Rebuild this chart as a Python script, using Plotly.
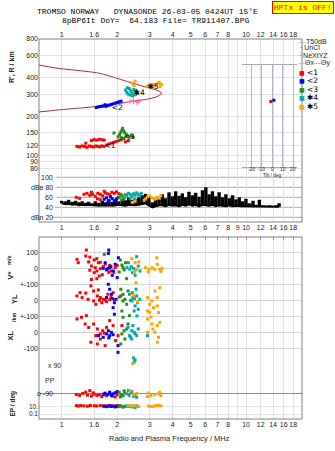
import math
import plotly.graph_objects as go

# ---------------- data ----------------
F_MIN, F_MAX = 0.753, 20.1
FREQ_TICKS = [1, 1.5, 2, 3, 4, 5, 6, 7, 8, 9, 10, 12, 14, 16, 18]
FREQ_LABELS = ["1", "1.6", "2", "3", "4", "5", "6", "7", "8", "", "10", "12", "14", "16", "18"]
FREQ_LABELS_MID = ["1", "1.6", "2", "3", "4", "5", "6", "7", "8", "9", "10", "12", "14", "16", "18"]
R_TICKS = [800, 600, 400, 300, 200, 150, 120, 100, 90, 80]

# model profile curve (frequency MHz, range km)
CURVE_F = [0.753, 0.958, 1.31, 1.61, 1.99, 2.45, 2.89, 3.28, 3.49, 3.28, 2.89, 2.45, 1.99, 1.61, 1.31, 0.958, 0.753]
CURVE_R = [503, 474, 452, 434, 397, 363, 338, 322, 304, 286, 273, 265, 251, 242, 235, 226, 218]

# echo virtual ranges
TOP_1 = [(1.21, 118), (1.25, 117), (1.29, 119), (1.33, 118), (1.37, 116), (1.41, 119), (1.45, 118), (1.49, 117),
         (1.53, 119), (1.57, 118), (1.61, 117), (1.65, 119), (1.69, 118), (1.45, 131), (1.50, 133), (1.55, 132),
         (1.60, 134), (1.65, 133), (1.70, 132), (1.75, 121), (1.80, 123), (1.86, 125), (1.92, 127), (1.98, 129),
         (2.04, 131), (2.10, 133), (2.15, 136), (2.30, 131), (2.22, 128), (1.35, 125)]
TOP_2 = [(1.54, 236), (1.58, 239), (1.62, 240), (1.66, 242), (1.70, 243), (1.74, 241), (1.78, 245), (1.82, 247),
         (1.86, 249), (1.90, 252), (1.95, 255), (2.00, 258), (2.05, 262), (2.10, 264), (1.72, 248)]
TOP_3 = [(2.02, 140), (2.06, 146), (2.09, 152), (2.12, 158), (2.14, 163), (2.17, 155), (2.20, 150), (2.24, 146),
         (2.28, 142), (2.33, 140), (2.38, 143), (2.44, 139), (2.18, 135), (1.92, 150), (2.10, 138)]
TOP_4 = [(2.22, 322), (2.25, 310), (2.29, 300), (2.33, 330), (2.37, 316), (2.41, 306), (2.46, 325), (2.50, 296),
         (2.54, 312), (2.58, 302), (2.42, 290), (2.27, 335), (2.35, 295), (2.52, 320)]
TOP_5 = [(2.42, 362), (2.47, 348), (2.50, 378), (2.90, 342), (2.96, 352), (3.03, 336), (3.10, 356), (3.18, 346),
         (3.26, 352), (3.34, 362), (3.42, 342), (3.48, 356), (3.38, 370)]
NEXTYZ = [(2.35, 262), (2.45, 265), (2.55, 260), (2.62, 264)]
ECHO_LABEL_F = [1.83, 2.0, 2.32, 2.63, 3.13]
ECHO_LABEL_R = [118, 233, 139, 307, 338]
ECHO_LABEL_T = ["&lt;1", "&lt;2", "&lt;3", "✱4", "✱5"]

# tilt inset (deg, km)
TILT_1 = [(-1.5, 262)]
TILT_2 = [(1.5, 268)]
TILT_TICKS = [-20, -10, 0, 10, 20]
TILT_LABELS = ["-20", "-10", "0", "10", "20"]

# noise / amplitude panel (dB)
NOISE_F = [1.00, 1.05, 1.09, 1.14, 1.19, 1.24, 1.29, 1.35, 1.40, 1.46, 1.52, 1.59, 1.66, 1.73, 1.80, 1.88, 1.96,
           2.04, 2.13, 2.22, 2.31, 2.41, 2.51, 2.62, 2.73, 2.85, 2.97, 3.10, 3.23, 3.37, 3.51, 3.66, 3.82, 3.98,
           4.15, 4.33, 4.51, 4.70, 4.90, 5.11, 5.33, 5.56, 5.80, 6.05, 6.30, 6.57, 6.85, 7.14, 7.45, 7.77, 8.10,
           8.45, 8.81, 9.18, 9.57, 9.98, 10.4, 10.9, 11.3, 11.8, 12.3, 12.8, 13.4, 14.0, 14.6, 15.1]
NOISE_LO = [48, 46, 47, 45, 46, 44, 45, 44, 45, 44, 44, 43, 44, 43, 44, 43, 44,
            45, 44, 43, 45, 44, 44, 45, 46, 48, 44, 40, 42, 44, 44, 42, 45, 43,
            44, 42, 45, 43, 46, 43, 45, 42, 45, 44, 43, 45, 42, 44, 43, 42, 44,
            42, 43, 42, 42, 42, 42, 42, 41, 42, 41, 41, 41, 41, 41, 41]
NOISE_HI = [53, 52, 55, 51, 53, 50, 52, 49, 51, 48, 52, 49, 53, 50, 55, 51, 56,
            52, 57, 54, 60, 55, 56, 60, 64, 67, 62, 50, 55, 58, 66, 58, 70, 62,
            72, 63, 68, 60, 71, 64, 69, 61, 74, 80, 66, 72, 62, 70, 60, 66, 58,
            64, 56, 60, 52, 57, 48, 53, 45, 55, 44, 43, 44, 43, 44, 48]
DB_LINES = [100, 80, 60, 40]
DB_LABELS = ["100", "dBe 80", "60", "40"]
DBN_LINE = 20
DB_1 = [(1.20, 60), (1.25, 58), (1.32, 66), (1.37, 68), (1.42, 64), (1.47, 66), (1.52, 62), (1.57, 68), (1.62, 66),
        (1.67, 63), (1.72, 69), (1.77, 67), (1.82, 65), (1.87, 70), (1.93, 68), (1.98, 71), (2.04, 67), (1.56, 57),
        (1.62, 55), (1.45, 70), (1.70, 72)]
DB_2 = [(1.70, 56), (1.75, 59), (1.80, 54), (1.84, 61), (1.88, 57), (1.93, 53), (1.98, 56), (1.78, 50), (2.02, 59)]
DB_3 = [(2.05, 60), (2.09, 66), (2.13, 63), (2.18, 58), (2.12, 55), (2.22, 65)]
DB_4 = [(2.25, 64), (2.30, 68), (2.35, 66), (2.40, 62), (2.45, 67), (2.50, 64), (2.55, 69), (2.60, 66), (2.65, 62),
        (2.35, 58), (2.48, 56), (2.70, 68)]
DB_5 = [(2.85, 57), (2.92, 61), (3.00, 63), (3.08, 59), (3.18, 56), (3.28, 60), (3.38, 58), (3.45, 63), (2.42, 50),
        (2.50, 52), (2.80, 54)]

# V* (m/s)
V_1 = [(1.36, 114), (1.21, 56), (1.23, 35), (1.35, 77), (1.42, 70), (1.50, 52), (1.55, 60), (1.58, 35), (1.62, 38),
       (1.45, 14), (1.52, 4), (1.42, -12), (1.50, -27), (1.55, -17), (1.62, -2), (1.68, 10), (1.72, 25), (1.55, -65),
       (1.60, -48), (1.45, -70), (1.76, -6), (1.85, -17), (1.95, 4), (2.00, 18), (1.92, -25), (1.82, 18), (1.80, -25),
       (1.66, -40), (1.40, 40)]
V_2 = [(1.80, 114), (1.79, 93), (1.72, 35), (1.82, 4), (1.90, -17), (1.95, 25), (1.78, 0), (1.88, -44), (2.00, -58),
       (1.68, 0), (2.03, 66), (1.85, 10), (1.75, -10)]
V_3 = [(1.70, 87), (2.08, 52), (2.15, 4), (2.05, -23), (2.25, -65), (2.22, 35), (2.12, 20), (2.18, -10)]
V_4 = [(2.26, 4), (2.34, -6), (2.55, 73), (2.60, 14), (2.42, -27), (2.50, -44), (2.66, -17), (2.30, 35), (2.38, 10),
       (2.45, 0), (2.52, -10)]
V_5 = [(2.50, 35), (2.62, 40), (2.55, -6), (2.48, -27), (2.85, 4), (2.98, -6), (3.20, -6), (3.40, -6), (3.30, 25),
       (3.50, 0), (3.28, 66), (2.95, -23), (2.40, 60), (3.10, 2), (3.45, -20)]
# YL (km)
YL_1 = [(1.21, 27), (1.257, 48), (1.44, 90), (1.49, 58), (1.56, 27), (1.62, 17), (1.68, 6), (1.49, -4), (1.53, -25),
        (1.39, 6), (1.58, 65), (1.78, 38), (1.85, 17), (1.90, 48), (1.93, 6), (2.09, 27), (1.65, -15), (1.29, 17),
        (1.72, 2), (1.60, 0), (1.75, -8), (1.82, 4), (1.35, 45)]
YL_2 = [(1.79, 100), (1.82, 69), (1.86, 37), (1.75, 17), (1.93, -15), (1.90, -46), (1.93, -87), (1.97, 6), (1.88, 10)]
YL_3 = [(2.09, 69), (2.15, 37), (2.20, 6), (2.25, -25), (2.12, -67), (2.29, 58), (2.15, -4), (2.05, 20)]
YL_4 = [(2.33, 37), (2.43, 17), (2.55, 27), (2.40, -4), (2.50, -35), (2.47, -67), (2.60, -56), (2.53, 69), (2.65, 6),
        (2.56, -98), (2.41, 48), (2.36, 0), (2.48, 10), (2.58, -15)]
YL_5 = [(2.53, 110), (2.92, 17), (3.08, -4), (3.20, 58), (3.40, 79), (3.30, -35), (3.00, -25), (3.15, -46),
        (3.35, -77), (3.05, -104), (2.92, -67), (3.30, 17), (2.45, 30), (2.58, -10)]
# XL (km)
XL_1 = [(1.21, 83), (1.28, 94), (1.34, 52), (1.36, 104), (1.49, 52), (1.56, 21), (1.53, -21), (1.62, -10), (1.67, 10),
        (1.75, 31), (1.82, 73), (1.90, 42), (1.62, -42), (1.44, -62), (1.56, -73), (1.72, -83), (2.02, -21),
        (2.12, 42), (1.96, -52), (1.70, -5), (1.40, 30)]
XL_2 = [(1.79, 10), (1.75, -10), (1.82, -21), (1.86, 0), (1.68, -31), (1.58, -21), (2.02, -83), (2.02, -125),
        (1.80, -35), (1.90, -15)]
XL_3 = [(2.15, 94), (2.29, 52), (2.25, 21), (2.12, -10), (2.20, -42), (2.09, -73), (2.33, 104), (2.18, 10)]
XL_4 = [(2.29, 31), (2.40, 10), (2.50, -10), (2.33, -21), (2.55, -21), (2.43, 42), (2.60, 21), (2.40, -42),
        (2.92, -21), (2.47, 0), (2.45, -160), (2.50, -172), (2.47, -186), (2.36, -30)]
XL_5 = [(2.92, 83), (3.08, 52), (3.30, 42), (3.40, 62), (3.20, 0), (3.35, -31), (2.92, 0), (3.30, -62), (3.00, 125),
        (2.43, -195), (3.12, 20)]
MID_TICKS = [100, 0, -100, -200, -300, -400, -500]
MID_LABELS = ["100", "0", "+-100", "0", "+-100", "0", "-100"]
YL_OFFSET, XL_OFFSET = -200, -400

# polarisation PP (deg) and EP (deg, log)
PP_1 = [(1.20, -95), (1.25, -100), (1.30, -88), (1.35, -80), (1.38, -98), (1.45, -104), (1.50, -92), (1.55, -100),
        (1.60, -96), (1.65, -108), (1.70, -90), (1.42, -70), (1.48, -84), (1.75, -102), (1.95, -110), (2.00, -96),
        (1.82, -88)]
PP_2 = [(1.72, -86), (1.78, -94), (1.82, -80), (1.86, -100), (1.90, -90), (1.95, -84), (2.00, -76), (1.88, -104),
        (1.68, -96)]
PP_3 = [(2.05, -80), (2.10, -95), (2.15, -102), (2.20, -85), (2.08, -110), (2.18, -72)]
PP_4 = [(2.25, -90), (2.32, -100), (2.38, -84), (2.45, -106), (2.50, -95), (2.55, -112), (2.40, -76), (2.30, -70)]
PP_5 = [(2.35, -72), (2.45, -96), (2.55, -88), (2.95, -85), (3.05, -100), (3.20, -96), (3.35, -90), (3.45, -102),
        (2.92, -108), (3.40, -80)]
EP_1 = [(1.20, 14), (1.23, 12), (1.27, 15), (1.32, 13), (1.38, 11), (1.43, 16), (1.50, 14), (1.55, 12), (1.62, 15),
        (1.68, 13), (1.74, 12), (1.80, 14), (1.85, 16), (1.92, 11), (1.98, 13), (2.05, 15)]
EP_2 = [(1.70, 10), (1.75, 8), (1.80, 12), (1.85, 9), (1.90, 11), (1.95, 7), (2.00, 10)]
EP_3 = [(2.05, 8), (2.10, 12), (2.15, 6), (2.20, 10)]
EP_4 = [(2.25, 12), (2.30, 9), (2.35, 14), (2.40, 7), (2.45, 11), (2.50, 5), (2.55, 13), (2.60, 9)]
EP_5 = [(2.30, 14), (2.40, 11), (2.50, 13), (2.60, 10), (2.95, 12), (3.05, 9), (3.15, 11), (3.25, 15), (3.35, 18),
        (3.45, 13)]

COLORS = ["#ff0000", "#0000ff", "#1f8f1f", "#00a8a8", "#ffa500"]
ECHO_NAMES = ["&lt;1", "&lt;2", "&lt;3", "✱4", "✱5"]
CURVE_COLOR = "#a3264f"

# ---------------- layout helpers ----------------
W, H = 335, 451
L, R, T, B = 39, 33, 39, 32
PW, PH = W - L - R, H - T - B


def PX(x):
    return (x - L) / PW


def PY(y):
    return (H - B - y) / PH


TICKFONT = dict(family="Liberation Sans", size=7, color="#222")
GRID = "#e2e2e6"

fig = go.Figure()


def squares(pts, color, xa, ya, off=0.0, size=3):
    fig.add_trace(go.Scatter(
        x=[p[0] for p in pts], y=[p[1] + off for p in pts], mode="markers",
        marker=dict(symbol="square", size=size, color=color, line=dict(width=0)),
        xaxis=xa, yaxis=ya, showlegend=False, hoverinfo="skip"))


# top panel: model curve + echoes
fig.add_trace(go.Scatter(x=CURVE_F, y=CURVE_R, mode="lines",
                         line=dict(color=CURVE_COLOR, width=1, shape="spline", smoothing=0.6),
                         xaxis="x2", yaxis="y", showlegend=False, hoverinfo="skip"))
for pts, c in zip([TOP_1, TOP_2, TOP_3, TOP_4, TOP_5], COLORS):
    squares(pts, c, "x2", "y")
fig.add_trace(go.Scatter(x=[p[0] for p in NEXTYZ], y=[p[1] for p in NEXTYZ], mode="markers",
                         marker=dict(symbol="cross-thin", size=4, line=dict(color="#ff6f9f", width=1)),
                         xaxis="x2", yaxis="y", showlegend=False, hoverinfo="skip"))
fig.add_trace(go.Scatter(x=ECHO_LABEL_F, y=ECHO_LABEL_R, mode="text", text=ECHO_LABEL_T,
                         textfont=dict(family="DejaVu Sans", size=7.5, color="#000"),
                         xaxis="x2", yaxis="y", showlegend=False, hoverinfo="skip"))

# tilt inset
squares(TILT_1, COLORS[0], "x6", "y6", size=3)
squares(TILT_2, COLORS[1], "x6", "y6", size=3)

# noise: vertical strokes from low to high level at each sweep frequency
seg_x, seg_y = [], []
for f, lo, hi in zip(NOISE_F, NOISE_LO, NOISE_HI):
    seg_x += [f, f, None]
    seg_y += [lo, hi, None]
fig.add_trace(go.Scatter(x=NOISE_F, y=NOISE_LO, mode="lines", line=dict(color="#000", width=2),
                         xaxis="x3", yaxis="y2", showlegend=False, hoverinfo="skip"))
fig.add_trace(go.Scatter(x=seg_x, y=seg_y, mode="lines", line=dict(color="#000", width=3.4),
                         connectgaps=False, xaxis="x3", yaxis="y2", showlegend=False, hoverinfo="skip"))
for pts, c in zip([DB_1, DB_2, DB_3, DB_4, DB_5], COLORS):
    squares(pts, c, "x3", "y2")

# V*, YL, XL
for pts, c in zip([V_1, V_2, V_3, V_4, V_5], COLORS):
    squares(pts, c, "x4", "y3")
for pts, c in zip([YL_1, YL_2, YL_3, YL_4, YL_5], COLORS):
    squares(pts, c, "x4", "y3", off=YL_OFFSET)
for pts, c in zip([XL_1, XL_2, XL_3, XL_4, XL_5], COLORS):
    squares(pts, c, "x4", "y3", off=XL_OFFSET)

# PP and EP
for pts, c in zip([PP_1, PP_2, PP_3, PP_4, PP_5], COLORS):
    squares(pts, c, "x5", "y4")
for pts, c in zip([EP_1, EP_2, EP_3, EP_4, EP_5], COLORS):
    squares(pts, c, "x", "y5")

xcommon = dict(type="log", range=[math.log10(F_MIN), math.log10(F_MAX)],
               tickvals=FREQ_TICKS, showgrid=True, gridcolor=GRID, gridwidth=1, zeroline=False,
               showline=False, tickfont=TICKFONT, ticks="", tickangle=0, fixedrange=True)

fig.update_layout(
    width=W, height=H,
    margin=dict(l=L, r=R, t=T, b=B, pad=0),
    paper_bgcolor="white", plot_bgcolor="rgba(0,0,0,0)",
    font=dict(family="Liberation Sans", size=7, color="#222"),
    xaxis=dict(xcommon, anchor="y5", ticktext=FREQ_LABELS, showticklabels=True, domain=[0, 1]),
    xaxis2=dict(xcommon, anchor="y", side="top", ticktext=FREQ_LABELS, showticklabels=True, domain=[0, 1]),
    xaxis3=dict(xcommon, anchor="y2", ticktext=FREQ_LABELS_MID, showticklabels=True, domain=[0, 1]),
    xaxis4=dict(xcommon, anchor="y3", side="top", showticklabels=False, ticks="inside", ticklen=3,
                tickcolor="#999", domain=[0, 1]),
    xaxis5=dict(xcommon, anchor="y4", showticklabels=False, domain=[0, 1]),
    xaxis6=dict(domain=[PX(241.7), PX(297.3)], anchor="y6", range=[-29.5, 24], tickvals=TILT_TICKS,
                showticklabels=False, showgrid=True, gridcolor="#b4b4c4", zeroline=False, showline=True,
                mirror=True, linecolor="#aaa", ticks="", fixedrange=True),
    yaxis=dict(domain=[PY(172), 1], anchor="x2", type="log",
               range=[math.log10(74.8), math.log10(800)], tickvals=R_TICKS,
               ticktext=[str(v) for v in R_TICKS], showgrid=True, gridcolor=GRID, zeroline=False,
               tickfont=TICKFONT, ticks="", fixedrange=True),
    yaxis2=dict(domain=[PY(222), PY(172)], anchor="x3", range=[10.6, 110.6], showgrid=False,
                showticklabels=False, zeroline=False, ticks="", fixedrange=True),
    yaxis3=dict(domain=[PY(365), PY(237)], anchor="x4", range=[-604.4, 195.6], tickvals=MID_TICKS,
                ticktext=MID_LABELS, showgrid=True, gridcolor="#d6d6d6", zeroline=False,
                tickfont=TICKFONT, ticks="", fixedrange=True),
    yaxis4=dict(domain=[PY(400), PY(365)], anchor="x5", range=[-129.1, 91], tickvals=[90, -90],
                showticklabels=False, showgrid=True, gridcolor="#8a8a8a", zeroline=False, ticks="",
                fixedrange=True),
    yaxis5=dict(domain=[0, PY(400)], anchor="x", type="log", range=[-2.30, 2.636], tickvals=[10, 0.1],
                ticktext=["10.", "0.1"], showgrid=True, gridcolor="#e6e6e6", zeroline=False,
                tickfont=dict(family="Liberation Sans", size=6.5, color="#222"), ticks="", fixedrange=True),
    yaxis6=dict(domain=[PY(167.3), PY(65)], anchor="x6", type="log", range=[1.910, 2.7016],
                showticklabels=False, showgrid=False, zeroline=False, ticks="", fixedrange=True),
)

shapes = []
# panel frames
shapes.append(dict(type="rect", xref="paper", yref="paper", x0=0, x1=1, y0=PY(222), y1=1,
                   line=dict(color="#808080", width=1), layer="above"))
shapes.append(dict(type="rect", xref="paper", yref="paper", x0=0, x1=1, y0=0, y1=PY(237),
                   line=dict(color="#808080", width=1), layer="above"))
# dB reference lines
for v in DB_LINES:
    shapes.append(dict(type="line", xref="paper", yref="y2", x0=PX(55.5), x1=1, y0=v, y1=v,
                       line=dict(color="#a8a8a8", width=1), layer="below"))
shapes.append(dict(type="line", xref="paper", yref="y2", x0=PX(52), x1=1, y0=DBN_LINE, y1=DBN_LINE,
                   line=dict(color="#a0a0e8", width=1), layer="below"))
fig.update_layout(shapes=shapes)

ann = []


def A(text, x, y, size=7, xanchor="left", angle=0, color="#222", family="Liberation Sans", **kw):
    d = dict(text=text, xref="paper", yref="paper", x=PX(x), y=PY(y), xanchor=xanchor, yanchor="middle",
             showarrow=False, textangle=angle, font=dict(family=family, size=size, color=color))
    d.update(kw)
    ann.append(d)


# titles
A("TROMSO NORWAY   DYNASONDE 26-03-05 0424UT 15°E", 35, 11.5, size=8, family="Liberation Mono", color="#000")
A("8pBP6It DoY=  64.183 File= TR911407.BPG", 60, 20.5, size=8, family="Liberation Mono", color="#000")
A("HPTx is OFF!", 302.5, 7.2, size=8, xanchor="center", family="Liberation Mono", color="#ff0000",
  bgcolor="#ffff00", bordercolor="#ff0000", borderwidth=1, borderpad=1)

# axis titles
A("<b>R', R / km</b>", 12.5, 67.5, size=7, xanchor="center", angle=-90)
A("<b>m/s</b>", 9, 261, size=5.5, xanchor="center", angle=-90)
A("<b>V*</b>", 9.5, 276, size=7.5, xanchor="center", angle=-90)
A("<b>YL</b>", 14, 299, size=7.5, xanchor="center", angle=-90)
A("<b>/km</b>", 14, 317, size=5.5, xanchor="center", angle=-90)
A("<b>XL</b>", 9.5, 336, size=7.5, xanchor="center", angle=-90)
A("<b>EP / deg</b>", 12.5, 404, size=6.5, xanchor="center", angle=-90)
A("Radio and Plasma Frequency / MHz", 169.5, 438.7, size=7.5, xanchor="center")

# tilt inset tick labels and title
for tv, tt in zip(TILT_TICKS, TILT_LABELS):
    ann.append(dict(text=tt, xref="x6", yref="paper", x=tv, y=PY(169.6), xanchor="center", yanchor="middle",
                    showarrow=False, font=dict(family="Liberation Sans", size=4.8, color="#222")))
A("Tilt / deg", 272, 175.6, size=4.8, xanchor="center")

# dB labels
for v, t in zip(DB_LINES, DB_LABELS):
    ann.append(dict(text=t, xref="paper", yref="y2", x=PX(55), y=v, xanchor="right", yanchor="middle",
                    showarrow=False, font=dict(family="Liberation Sans", size=7, color="#222")))
ann.append(dict(text="dBn 20", xref="paper", yref="y2", x=PX(55), y=DBN_LINE, xanchor="right",
                yanchor="middle", showarrow=False, font=dict(family="Liberation Sans", size=7, color="#222")))

# PP labels
A("x 90", 46, 365, size=7)
A("PP", 42.5, 380, size=7)
A("o -90", 35, 393.7, size=7)

# legend
A("<span style='color:#a0a0a0'>—</span>T50dB", 297, 41, size=7)
A("<span style='color:#000'>·</span> UnCl", 298, 47.5, size=7)
A("<span style='color:#ff6f9f'>+</span>NeXtYZ", 297, 55, size=7)
A("<span style='color:#ff8080'>—</span>Θx<span style='color:#8080ff'>—</span>Θy", 296, 62.7, size=7)
for i, (c, n) in enumerate(zip(COLORS, ECHO_NAMES)):
    yy = [72.3, 80.7, 89.3, 97, 106][i]
    A(f"<span style='color:{c};font-size:6px'>■</span> {n}", 296.5, yy, size=7.5, color="#000",
      family="DejaVu Sans")

fig.update_layout(annotations=ann)
fig.write_html("out.html")
